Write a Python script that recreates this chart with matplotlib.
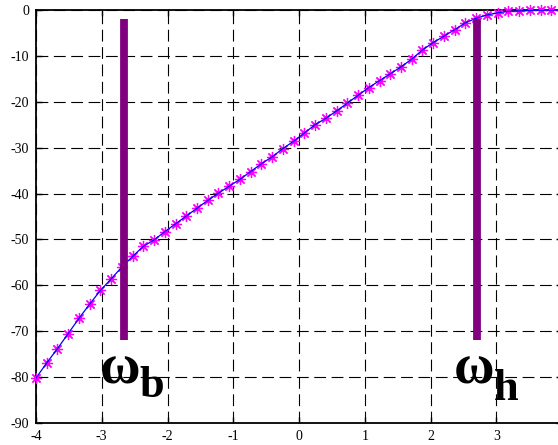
import matplotlib
matplotlib.use("Agg")
import matplotlib.pyplot as plt
import numpy as np

# log-frequency axis samples and magnitude response (dB)
x_log = np.linspace(-4, 4, 50)
mag_db = [
    -80.2, -76.9, -73.8, -70.5, -67.2, -64.1, -61.1, -58.6, -56.0, -53.7,
    -51.5, -50.1, -48.3, -46.6, -44.9, -43.2, -41.5, -39.9, -38.4, -36.9,
    -35.2, -33.5, -32.0, -30.2, -28.6, -26.8, -25.0, -23.6, -22.0, -20.3,
    -18.6, -16.9, -15.4, -13.9, -12.4, -10.7, -8.7, -7.1, -5.7, -4.3,
    -2.8, -1.8, -1.1, -0.6, -0.3, -0.2, -0.1, -0.05, 0.0, 0.0,
]

# band edge markers
edge_x = [-2.66, 2.70]
edge_top = -2.0
edge_bottom = -72.0
edge_names = [("\u03c9", "b"), ("\u03c9", "h")]
edge_label_pos = [(-3.03, -81.5, -2.42, -84.3), (2.35, -81.3, 2.96, -85.0)]

xticks = list(range(-4, 5))
yticks = list(range(-90, 1, 10))

plt.rcParams["lines.scale_dashes"] = False
serif = ["Liberation Serif", "DejaVu Serif"]

fig = plt.figure(figsize=(5.58, 4.45), dpi=100)
W, H = 558, 445
left, right, top, bottom = 36, 562, 10, 423
ax = fig.add_axes([left / W, (H - bottom) / H, (right - left) / W, (bottom - top) / H])

ax.set_xlim(-4, 4)
ax.set_ylim(-90, 0)
ax.set_xticks(xticks)
ax.set_yticks(yticks)
ax.set_xticklabels([str(t) for t in xticks], family=serif, fontsize=10)
ax.set_yticklabels([str(t) for t in yticks], family=serif, fontsize=10)
ax.tick_params(direction="in", length=4.5, width=1, top=True, right=True, pad=5)

ax.grid(True, color="black", linestyle=(0, (8.5, 4.0)), linewidth=0.8)
for s in ax.spines.values():
    s.set_linewidth(1.3)

ax.plot(x_log, mag_db, linestyle="none", marker=(8, 2, 0), markersize=8,
        markeredgewidth=0.9, color="#ff00ff", zorder=3, clip_on=False)
ax.plot(x_log, mag_db, color="#0000ff", linewidth=0.9, zorder=4)

for xe in edge_x:
    ax.plot([xe, xe], [edge_bottom, edge_top], color="#800080", linewidth=5.6,
            solid_capstyle="butt", zorder=5)

for (g, sub), (gx, gy, sx, sy) in zip(edge_names, edge_label_pos):
    ax.text(gx, gy, g, family=serif, fontweight="bold", fontsize=40,
            ha="left", va="baseline", zorder=6)
    ax.text(sx, sy, sub, family=serif, fontweight="bold", fontsize=32,
            ha="left", va="baseline", zorder=6)

fig.savefig("out.png", dpi=100)
